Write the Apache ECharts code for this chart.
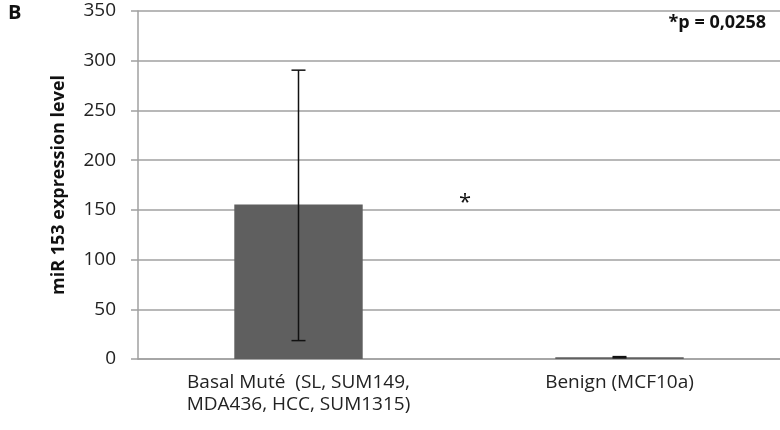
<!DOCTYPE html>
<html>
<head>
<meta charset="utf-8">
<script src="https://cdn.jsdelivr.net/npm/echarts@6/dist/echarts.min.js"></script>
<style>
  html, body { margin: 0; padding: 0; background: #fff; }
  #chart { width: 780px; height: 430px; }
</style>
</head>
<body>
<div id="chart"></div>
<script>
const categories = ['Basal Muté  (SL, SUM149,\nMDA436, HCC, SUM1315)', 'Benign (MCF10a)']
const values = [155.5, 1.8]
const errLow = [18.5, 1.2]
const errHigh = [290.5, 2.4]
const yTicks = { min: 0, max: 350, interval: 50 }

const chart = echarts.init(document.getElementById('chart'), null, { renderer: 'canvas' })

const font = 'Open Sans'

chart.setOption({
  animation: false,
  grid: { left: 138, right: 0, top: 11, bottom: 71 },
  xAxis: {
    type: 'category',
    data: categories,
    axisTick: { show: false },
    axisLine: { lineStyle: { color: '#a0a0a0', width: 1.5 } },
    axisLabel: { color: '#222', fontSize: 19, fontFamily: font, lineHeight: 22, margin: 13 }
  },
  yAxis: {
    type: 'value',
    min: yTicks.min,
    max: yTicks.max,
    interval: yTicks.interval,
    name: 'miR 153 expression level',
    nameLocation: 'middle',
    nameGap: 70,
    nameTextStyle: { fontWeight: 'bold', fontSize: 18, color: '#111', fontFamily: font },
    axisLine: { show: true, lineStyle: { color: '#a0a0a0', width: 1.5 } },
    axisTick: { show: true, length: 7, lineStyle: { color: '#a0a0a0', width: 1.5 } },
    axisLabel: { color: '#222', fontSize: 19, fontFamily: font, margin: 22 },
    splitLine: { lineStyle: { color: '#a0a0a0', width: 1.5 } }
  },
  series: [
    {
      type: 'bar',
      data: values,
      barWidth: '40%',
      itemStyle: { color: '#5f5f5f' }
    },
    {
      type: 'custom',
      data: categories.map((c, i) => [i, errLow[i], errHigh[i]]),
      z: 5,
      renderItem: (params, api) => {
        const lo = api.coord([api.value(0), api.value(1)])
        const hi = api.coord([api.value(0), api.value(2)])
        const half = 7
        const style = { stroke: '#111', lineWidth: 1.5 }
        return {
          type: 'group',
          children: [
            { type: 'line', shape: { x1: hi[0], y1: hi[1], x2: lo[0], y2: lo[1] }, style },
            { type: 'line', shape: { x1: hi[0] - half, y1: hi[1], x2: hi[0] + half, y2: hi[1] }, style },
            { type: 'line', shape: { x1: lo[0] - half, y1: lo[1], x2: lo[0] + half, y2: lo[1] }, style }
          ]
        }
      }
    }
  ],
  graphic: [
    { type: 'text', left: 8, top: 3, style: { text: 'B', font: "bold 20px 'Open Sans'", fill: '#111' } },
    { type: 'text', right: 14, top: 14, style: { text: '*p = 0,0258', font: "bold 18px 'Open Sans'", fill: '#111' } },
    { type: 'text', left: 459, top: 192, style: { text: '*', font: "22px 'Open Sans'", fill: '#111' } }
  ]
})
</script>
</body>
</html>
